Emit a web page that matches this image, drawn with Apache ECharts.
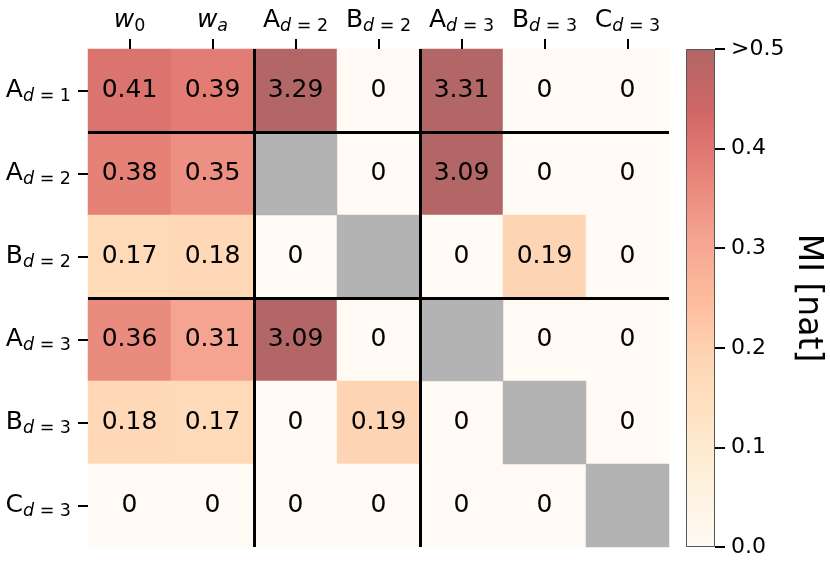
<!DOCTYPE html>
<html>
<head>
<meta charset="utf-8">
<script src="https://cdn.jsdelivr.net/npm/echarts@6/dist/echarts.min.js"></script>
<style>
  html, body { margin: 0; padding: 0; background: #fff; }
  #chart { width: 830px; height: 569px; }
</style>
</head>
<body>
<div id="chart"></div>
<script>
// column and row tick labels (rich text: {m|main}{d|italic sub}{n|upright sub})
var colLabels = [
    '{w|w}{n|0}',
    '{w|w}{d|a}',
    '{m|A}{d|d}{n| = 2}',
    '{m|B}{d|d}{n| = 2}',
    '{m|A}{d|d}{n| = 3}',
    '{m|B}{d|d}{n| = 3}',
    '{m|C}{d|d}{n| = 3}'
];
var rowLabels = [
    '{m|A}{d|d}{n| = 1}',
    '{m|A}{d|d}{n| = 2}',
    '{m|B}{d|d}{n| = 2}',
    '{m|A}{d|d}{n| = 3}',
    '{m|B}{d|d}{n| = 3}',
    '{m|C}{d|d}{n| = 3}'
];

// MI values per row, null = not defined (grey cell)
var rowA1 = [0.41, 0.39, 3.29, 0, 3.31, 0, 0];
var rowA2 = [0.38, 0.35, null, 0, 3.09, 0, 0];
var rowB2 = [0.17, 0.18, 0, null, 0, 0.19, 0];
var rowA3 = [0.36, 0.31, 3.09, 0, null, 0, 0];
var rowB3 = [0.18, 0.17, 0, 0.19, 0, null, 0];
var rowC3 = [0, 0, 0, 0, 0, 0, null];
var rows = [rowA1, rowA2, rowB2, rowA3, rowB3, rowC3];

var colorMax = 0.5;
var barTicks = [0, 0.1, 0.2, 0.3, 0.4, 0.5];

// OrRd at alpha 0.6 over white
var palette = ['#fffaf4', '#fef1de', '#fee5c5', '#fed6b5', '#fdbb9b', '#f5a391', '#e78379', '#d16666', '#b26666'];

var font = 'DejaVu Sans';

var cells = [];
var blanks = [];
rows.forEach(function(r, y) {
    r.forEach(function(v, x) {
        if (v === null) {
            blanks.push([x, y, 1]);
        } else {
            cells.push([x, y, Math.min(v, colorMax), v]);
        }
    });
});

var rich = {
    m: { fontSize: 25, lineHeight: 30, fontFamily: font, color: '#000' },
    w: { fontSize: 25, lineHeight: 30, fontFamily: font, fontStyle: 'italic', color: '#000' },
    d: { fontSize: 17.5, lineHeight: 18, verticalAlign: 'bottom', fontFamily: font, fontStyle: 'italic', color: '#000' },
    n: { fontSize: 17.5, lineHeight: 18, verticalAlign: 'bottom', fontFamily: font, color: '#000' }
};

var tickStyle = { color: '#000', width: 2 };

var chart = echarts.init(document.getElementById('chart'));

var option = {
    animation: false,
    textStyle: { fontFamily: font },
    grid: [
        { left: 88, top: 49, width: 581, height: 498 },
        { left: 686, top: 49, width: 29, height: 498 }
    ],
    xAxis: [{
        type: 'category',
        gridIndex: 0,
        position: 'top',
        data: colLabels,
        z: 5,
        axisLine: { show: false },
        axisTick: { show: true, alignWithLabel: true, length: 10, lineStyle: tickStyle },
        axisLabel: { margin: 14, rich: rich, interval: 0 },
        splitLine: {
            show: true,
            interval: function(i) { return i === 2 || i === 4; },
            showMinLine: true,
            showMaxLine: false,
            lineStyle: { color: '#000', width: 3 }
        }
    }, {
        type: 'category',
        gridIndex: 1,
        data: ['bar'],
        show: false
    }],
    yAxis: [{
        type: 'category',
        gridIndex: 0,
        inverse: true,
        data: rowLabels,
        z: 5,
        axisLine: { show: false },
        axisTick: { show: true, alignWithLabel: true, length: 10, lineStyle: tickStyle },
        axisLabel: { margin: 17, rich: rich, interval: 0 },
        splitLine: {
            show: true,
            interval: function(i) { return i === 1 || i === 3; },
            showMinLine: true,
            showMaxLine: false,
            lineStyle: { color: '#000', width: 3 }
        }
    }, {
        type: 'value',
        gridIndex: 1,
        position: 'right',
        min: 0,
        max: colorMax,
        interval: 0.1,
        name: 'MI [nat]',
        nameLocation: 'middle',
        nameRotate: -90,
        nameGap: 76,
        nameTextStyle: { fontSize: 33, color: '#000', fontFamily: font },
        axisLine: { show: false },
        axisTick: { show: true, length: 10, lineStyle: tickStyle },
        splitLine: { show: false },
        axisLabel: {
            margin: 16,
            fontSize: 22,
            color: '#000',
            fontFamily: font,
            formatter: function(v) {
                return v >= colorMax ? '>' + colorMax : v.toFixed(1);
            }
        }
    }],
    visualMap: {
        type: 'continuous',
        show: false,
        min: 0,
        max: colorMax,
        dimension: 2,
        seriesIndex: 0,
        inRange: { color: palette }
    },
    series: [{
        type: 'heatmap',
        xAxisIndex: 0,
        yAxisIndex: 0,
        data: cells,
        itemStyle: { borderWidth: 0 },
        label: {
            show: true,
            fontSize: 25,
            color: '#000',
            fontFamily: font,
            formatter: function(p) { return String(p.data[3]); }
        },
        emphasis: { disabled: true }
    }, {
        type: 'heatmap',
        xAxisIndex: 0,
        yAxisIndex: 0,
        data: blanks,
        itemStyle: { color: '#b3b3b3', borderWidth: 0 },
        label: { show: false },
        emphasis: { disabled: true }
    }, {
        type: 'bar',
        xAxisIndex: 1,
        yAxisIndex: 1,
        data: [colorMax],
        barWidth: '100%',
        silent: true,
        itemStyle: {
            borderColor: '#555',
            borderWidth: 1,
            color: {
                type: 'linear', x: 0, y: 1, x2: 0, y2: 0,
                colorStops: palette.map(function(c, i) {
                    return { offset: i / (palette.length - 1), color: c };
                })
            }
        }
    }]
};

chart.setOption(option);
</script>
</body>
</html>
